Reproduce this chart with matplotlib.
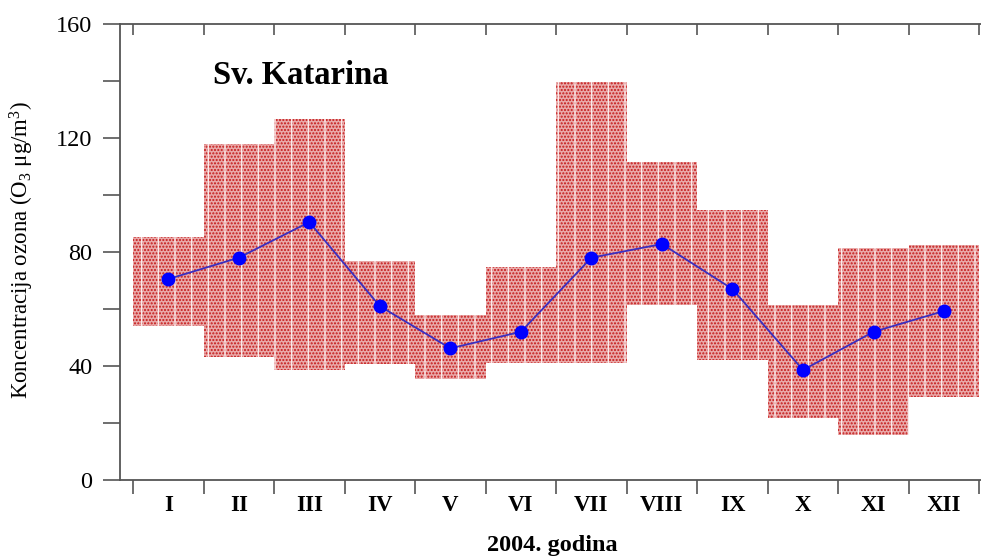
import numpy as np
import matplotlib
matplotlib.use('Agg')
import matplotlib.pyplot as plt
from matplotlib.ticker import FixedLocator, NullFormatter

# -------------------------
# DATA (ozone, Sv. Katarina, 2004)
# -------------------------
months = ['I', 'II', 'III', 'IV', 'V', 'VI', 'VII', 'VIII', 'IX', 'X', 'XI', 'XII']
o3_min = [54, 43, 38.6, 40.7, 35.6, 41, 41, 61.4, 42, 21.8, 15.8, 29]
o3_max = [85.3, 118, 126.7, 77, 58, 74.6, 139.6, 111.6, 94.7, 61.4, 81.4, 82.5]
o3_mean = [70.5, 78, 90.5, 61, 46.2, 52, 78, 82.8, 67, 38.6, 52, 59.3]

# -------------------------
# STYLE
# -------------------------
plt.rcParams['font.family'] = ['Liberation Serif', 'DejaVu Serif']
plt.rcParams['mathtext.fontset'] = 'custom'
plt.rcParams['mathtext.rm'] = 'Liberation Serif'
plt.rcParams['mathtext.it'] = 'Liberation Serif:italic'
plt.rcParams['hatch.linewidth'] = 1.0

fig = plt.figure(figsize=(9.81, 5.57), dpi=100)
ax = fig.add_axes([120 / 981, 1 - 480 / 557, (992 - 120) / 981, (480 - 24) / 557])

x = np.arange(1, len(months) + 1)
lo = np.array(o3_min)
hi = np.array(o3_max)

# min-max range boxes: red dots + white vertical streaks
ax.bar(x, hi - lo, bottom=lo, width=1.0, facecolor='#e9a9a9',
       edgecolor='#c41818', linewidth=0, hatch='.....', zorder=1)
ax.bar(x, hi - lo, bottom=lo, width=1.0, facecolor='none',
       edgecolor='#fbeaea', linewidth=0, hatch='|', zorder=1.5)

# monthly mean
ax.plot(x, o3_mean, color='#3a2fc0', linewidth=1.3, zorder=2)
ax.plot(x, o3_mean, 'o', color='#0000ff', markersize=9, zorder=3)

# -------------------------
# AXES
# -------------------------
ax.set_xlim(0.316, 12.68)
ax.set_ylim(0, 160)

ax.xaxis.set_major_locator(FixedLocator(np.arange(0.5, 13, 1)))
ax.xaxis.set_major_formatter(NullFormatter())
ax.xaxis.set_minor_locator(FixedLocator(x))
ax.set_xticklabels(months, minor=True)
ax.tick_params(axis='x', which='major', direction='out', length=10, width=1.2,
               color='#555555', top=True)
ax.tick_params(axis='x', which='minor', length=0, pad=11, labelsize=16.5)
for lab in ax.get_xticklabels(minor=True):
    lab.set_fontweight('bold')

ax.set_yticks([0, 40, 80, 120, 160])
ax.yaxis.set_minor_locator(FixedLocator([20, 60, 100, 140]))
ax.tick_params(axis='y', which='both', direction='out', length=12, width=1.2,
               color='#555555', pad=8, labelsize=17.5, right=True)

# top ticks point inward
for t in ax.xaxis.get_major_ticks():
    t.tick2line.set_marker(3)
    t.tick2line.set_markersize(8)

for s in ax.spines.values():
    s.set_color('#555555')
    s.set_linewidth(1.3)

ax.text(1.63, 142, 'Sv. Katarina', fontsize=23.5, fontweight='bold',
        ha='left', va='center')

fig.text(22 / 981, 1 - 250 / 557, r'Koncentracija ozona (O$_3$ μg/m$^3$)',
         rotation=90, ha='center', va='center', fontsize=16.5)
fig.text(552 / 981, 1 - 546 / 557, '2004. godina', ha='center', va='center',
         fontsize=17.5, fontweight='bold')

plt.savefig('out.png', dpi=100)
